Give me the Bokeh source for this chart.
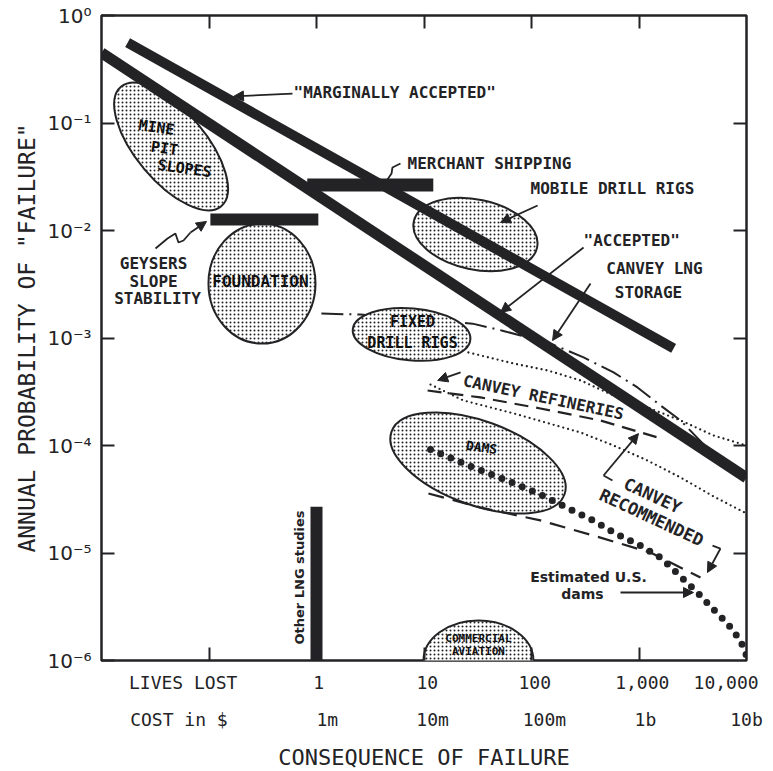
import numpy as np
from bokeh.plotting import figure
from bokeh.models import (Range1d, FixedTicker, LogAxis, CustomJSTickFormatter,
                          Arrow, NormalHead, ColumnDataSource)
from bokeh.core.properties import value
from bokeh.embed import file_html
from bokeh.resources import INLINE

# ---------------- axis data ----------------
y_ticks = [1e-6, 1e-5, 1e-4, 1e-3, 1e-2, 1e-1, 1.0]
y_tick_labels = ["10⁻⁶", "10⁻⁵", "10⁻⁴", "10⁻³", "10⁻²", "10⁻¹", "10⁰"]
x_inner_ticks = [0.1, 1, 10, 100, 1000]
y_inner_ticks = [1e-5, 1e-4, 1e-3, 1e-2, 1e-1]
lives_labels = ["LIVES LOST", "1", "10", "100", "1,000", "10,000"]
cost_labels = ["COST in $", "1m", "10m", "100m", "1b", "10b"]
# label anchor positions along the lives/cost rows (log10 of lives)
lives_label_exp = [-1.24, 0.02, 1.03, 2.03, 3.03, 3.81]
cost_label_exp = [-1.28, 0.10, 1.08, 2.12, 3.06, 4.0]

# ---------------- criterion lines ----------------
marginal_x = [0.0175, 2100]
marginal_y = [0.56, 8.0e-4]
accepted_x = [0.01, 10000]
accepted_y = [0.45, 5.0e-5]

# ---------------- bars ----------------
merchant_x = [0.82, 12.2]
merchant_y = [0.0265, 0.0265]
geysers_x = [0.103, 1.04]
geysers_y = [0.01265, 0.01265]
lng_other_x = [1.0, 1.0]
lng_other_y = [1e-6, 2.7e-5]

# ---------------- ellipses (centre, size in px, angle deg) ----------------
ell_names = ["mine", "foundation", "mobile", "fixed", "dams", "aviation"]
ell_x = [0.0444, 0.311, 30.1, 7.66, 31.8, 32.1]
ell_y = [0.0604, 0.00321, 0.00918, 0.00108, 6.87e-5, 1e-6]
ell_w = [156, 107, 126, 118, 184, 110]
ell_h = [70, 120, 70, 52, 84, 80]
ell_a = [-50, 0, -12, -5, -20, 0]

# ---------------- Canvey curves ----------------
lng_storage_x = [1.11, 2.56, 28.3, 53.7, 150, 305, 580, 968, 1585, 2432, 4335]
lng_storage_y = [1.69e-3, 1.65e-3, 1.36e-3, 1.17e-3, 8.9e-4, 6.6e-4, 4.78e-4,
                 3.47e-4, 2.36e-4, 1.71e-4, 9.4e-5]
upper_dot_x = [25.9, 68.0, 141, 286, 579, 1199, 2432, 4932, 10000]
upper_dot_y = [7.33e-4, 5.79e-4, 4.99e-4, 4.03e-4, 2.92e-4, 2.26e-4, 1.71e-4,
               1.24e-4, 1.0e-4]
lower_dot_x = [11.5, 23.3, 68.0, 286, 579, 1199, 2432, 4932, 10000]
lower_dot_y = [3.69e-4, 2.62e-4, 1.99e-4, 1.32e-4, 1.0e-4, 7.25e-5, 5.04e-5,
               3.36e-5, 2.33e-5]
refinery_x = [10.8, 33.5, 121, 438, 1486]
refinery_y = [3.25e-4, 2.80e-4, 2.21e-4, 1.71e-4, 1.19e-4]
lower_dash_x = [11.0, 33.5, 121, 438, 1279, 3733]
lower_dash_y = [3.58e-5, 2.65e-5, 2.01e-5, 1.39e-5, 1.01e-5, 5.92e-6]

# ---------------- estimated U.S. dams ----------------
usdams_x = [11.5, 28.9, 59.8, 121, 241, 378, 604, 989, 1585, 2328, 3499,
            4826, 6653, 8790, 10000]
usdams_y = [9.18e-5, 6.24e-5, 4.72e-5, 3.50e-5, 2.49e-5, 2.00e-5, 1.52e-5,
            1.20e-5, 9.08e-6, 6.31e-6, 4.29e-6, 3.05e-6, 2.21e-6, 1.53e-6, 1.11e-6]

# ---------------- leaders / arrows ----------------
arrows = [  # x_start, y_start, x_end, y_end
    (0.598, 0.188, 0.169, 0.1766),        # marginally accepted
    (114, 0.0171, 51.5, 0.01187),          # mobile drill rigs
    (305, 6.95e-3, 51.5, 1.73e-3),         # accepted
    (354, 3.21e-3, 157, 9.48e-4),          # canvey lng storage
    (0.0673, 9.58e-3, 0.0948, 0.01213),    # geysers
    (673, 4.29e-6, 3214, 4.29e-6),         # estimated US dams
    (21.9, 4.78e-4, 13.4, 4.03e-4),        # canvey refineries
    (468, 5.26e-5, 989, 1.29e-4),          # canvey recommended (upper)
    (5728, 1.10e-5, 4335, 6.59e-6),        # canvey recommended (lower)
]
merchant_sq_x = [6.04, 5.09, 4.99, 4.57]
merchant_sq_y = [0.042, 0.0386, 0.0339, 0.0298]
geysers_sq_x = [0.0318, 0.0411, 0.0487, 0.0520, 0.0579, 0.0673]
geysers_sq_y = [6.8e-3, 8.43e-3, 9.38e-3, 7.73e-3, 8.07e-3, 9.58e-3]
rec_up_x = [566, 468]
rec_up_y = [4.72e-5, 5.26e-5]
rec_lo_x = [4830, 5728]
rec_lo_y = [1.17e-5, 1.10e-5]

# ---------------- annotation texts ----------------
left_txt = ['"MARGINALLY ACCEPTED"', "MERCHANT SHIPPING", "MOBILE DRILL RIGS", '"ACCEPTED"']
left_x = [0.611, 7.03, 97.9, 305]
left_y = [0.192, 0.0420, 0.0246, 8.07e-3]

ctr_txt = ["GEYSERS", "SLOPE", "STABILITY", "CANVEY LNG", "STORAGE"]
ctr_x = [0.0305, 0.0305, 0.0332, 1393, 1225]
ctr_y = [4.93e-3, 3.35e-3, 2.33e-3, 4.43e-3, 2.65e-3]

ell_txt = ["MINE", "PIT", "SLOPES", "FOUNDATION", "FIXED", "DRILL RIGS", "DAMS"]
ell_tx = [0.0325, 0.0385, 0.0592, 0.301, 7.82, 7.82, 34.3]
ell_ty = [0.0908, 0.0579, 0.0377, 3.35e-3, 1.42e-3, 8.89e-4, 9.57e-5]
ell_tsize = ["15px", "15px", "15px", "16px", "15px", "15px", "13px"]
ell_tang = [-8, -8, -8, 0, 0, 0, -8]

avi_txt = ["COMMERCIAL", "AVIATION"]
avi_x = [32.1, 32.1]
avi_y = [1.60e-6, 1.21e-6]

rot_txt = ["CANVEY REFINERIES", "CANVEY", "RECOMMENDED"]
rot_x = [129, 1336, 1306]
rot_y = [2.80e-4, 3.43e-5, 2.14e-5]
rot_ang = [-12, -25, -25]
rot_size = ["16px", "17px", "17px"]

est_txt = ["Estimated U.S.", "dams"]
est_x = [339, 298]
est_y = [5.92e-6, 4.20e-6]

other_txt = ["Other LNG studies"]
other_x = [0.695]
other_y = [5.92e-6]

INK = "#232326"
MONO = value("DejaVu Sans Mono")

p = figure(x_axis_type="log", y_axis_type="log",
           x_range=Range1d(0.01, 10000), y_range=Range1d(1e-6, 1.0),
           frame_width=645, frame_height=645,
           min_border_left=101, min_border_top=15, min_border_right=24,
           min_border_bottom=95,
           output_backend="svg", toolbar_location=None)
p.background_fill_color = "white"
p.border_fill_color = "white"
p.outline_line_color = INK
p.outline_line_width = 2.5
p.grid.visible = False

blank = CustomJSTickFormatter(code="return '';")

# left axis with labels
ya = p.yaxis[0]
ya.ticker = FixedTicker(ticks=y_ticks, minor_ticks=[])
ya.formatter = CustomJSTickFormatter(args=dict(labels=y_tick_labels),
                                     code="return labels[Math.round(Math.log10(tick)) + 6];")
ya.major_tick_in = 13
ya.major_tick_out = 0
ya.major_tick_line_width = 2
ya.major_tick_line_color = INK
ya.axis_line_color = None
ya.major_label_text_font = "DejaVu Sans"
ya.major_label_text_font_size = "20px"
ya.major_label_text_color = INK
ya.major_label_standoff = 10
ya.axis_label = 'ANNUAL PROBABILITY OF "FAILURE"'
ya.axis_label_text_font = "DejaVu Sans Mono"
ya.axis_label_text_font_size = "23px"
ya.axis_label_text_font_style = "normal"
ya.axis_label_text_color = INK
ya.axis_label_standoff = 4

# bottom axis: ticks only
xa = p.xaxis[0]
xa.ticker = FixedTicker(ticks=x_inner_ticks, minor_ticks=[])
xa.formatter = blank
xa.major_tick_in = 13
xa.major_tick_out = 0
xa.major_tick_line_width = 2
xa.major_tick_line_color = INK
xa.axis_line_color = None
xa.major_label_text_font_size = "1px"
xa.major_label_standoff = 0

# top & right ticks
top = LogAxis(ticker=FixedTicker(ticks=x_inner_ticks, minor_ticks=[]), formatter=blank,
              major_tick_in=13, major_tick_out=0, major_tick_line_width=2,
              major_tick_line_color=INK, axis_line_color=None,
              major_label_text_font_size="1px", major_label_standoff=0)
p.add_layout(top, "above")
right = LogAxis(ticker=FixedTicker(ticks=y_inner_ticks, minor_ticks=[]), formatter=blank,
                major_tick_in=13, major_tick_out=0, major_tick_line_width=2,
                major_tick_line_color=INK, axis_line_color=None,
                major_label_text_font_size="1px", major_label_standoff=0)
p.add_layout(right, "right")

# label rows below
lives_pos = [10 ** e for e in lives_label_exp]
cost_pos = [10 ** e for e in cost_label_exp]
fmt_code = ("for (let i = 0; i < pos.length; i++) {"
            " if (Math.abs(Math.log10(pos[i] / tick)) < 1e-6) return labels[i]; }"
            " return '';")
lives_ax = LogAxis(ticker=FixedTicker(ticks=lives_pos, minor_ticks=[]),
                   formatter=CustomJSTickFormatter(args=dict(pos=lives_pos, labels=lives_labels), code=fmt_code),
                   major_tick_in=0, major_tick_out=0, major_tick_line_color=None,
                   axis_line_color=None, major_label_text_font="DejaVu Sans Mono",
                   major_label_text_font_size="18px", major_label_text_color=INK,
                   major_label_standoff=11)
p.add_layout(lives_ax, "below")
cost_ax = LogAxis(ticker=FixedTicker(ticks=cost_pos, minor_ticks=[]),
                  formatter=CustomJSTickFormatter(args=dict(pos=cost_pos, labels=cost_labels), code=fmt_code),
                  major_tick_in=0, major_tick_out=0, major_tick_line_color=None,
                  axis_line_color=None, major_label_text_font="DejaVu Sans Mono",
                  major_label_text_font_size="18px", major_label_text_color=INK,
                  major_label_standoff=13,
                  axis_label="CONSEQUENCE OF FAILURE", axis_label_text_font="DejaVu Sans Mono",
                  axis_label_text_font_size="22px", axis_label_text_font_style="normal",
                  axis_label_text_color=INK, axis_label_standoff=12)
p.add_layout(cost_ax, "below")

# ---- dash-dot LNG storage curve (under ellipses)
p.line(lng_storage_x, lng_storage_y, line_color=INK, line_width=2, line_dash="22 6 2 6")

# ---- ellipses
esrc = ColumnDataSource(dict(x=ell_x, y=ell_y, w=ell_w, h=ell_h, a=ell_a))
p.ellipse(x="x", y="y", width="w", height="h", angle="a", angle_units="deg",
          width_units="screen", height_units="screen", source=esrc,
          fill_color="white", hatch_pattern="dot", hatch_scale=4, hatch_weight=1.7,
          hatch_color=INK, line_color=INK, line_width=2)

# ---- other curves
p.line(upper_dot_x, upper_dot_y, line_color=INK, line_width=2.3, line_dash="0 5", line_cap="round")
p.line(lower_dot_x, lower_dot_y, line_color=INK, line_width=2.3, line_dash="0 5", line_cap="round")
p.line(refinery_x, refinery_y, line_color=INK, line_width=2.2, line_dash="14 8")
p.line(lower_dash_x, lower_dash_y, line_color=INK, line_width=2.2, line_dash="16 9")
p.line(usdams_x, usdams_y, line_color=INK, line_width=7, line_dash="0 11", line_cap="round")

# ---- criterion lines and bars
p.line(marginal_x, marginal_y, line_color=INK, line_width=10, line_cap="butt")
p.line(accepted_x, accepted_y, line_color=INK, line_width=11, line_cap="butt")
p.line(merchant_x, merchant_y, line_color=INK, line_width=13, line_cap="butt")
p.line(geysers_x, geysers_y, line_color=INK, line_width=12, line_cap="butt")
p.line(lng_other_x, lng_other_y, line_color=INK, line_width=12, line_cap="butt")

# ---- leaders
p.line(merchant_sq_x, merchant_sq_y, line_color=INK, line_width=1.8)
p.line(geysers_sq_x, geysers_sq_y, line_color=INK, line_width=1.8)
p.line(rec_up_x, rec_up_y, line_color=INK, line_width=1.8)
p.line(rec_lo_x, rec_lo_y, line_color=INK, line_width=1.8)
for xs, ys, xe, ye in arrows:
    p.add_layout(Arrow(end=NormalHead(size=10, fill_color=INK, line_color=INK),
                       x_start=xs, y_start=ys, x_end=xe, y_end=ye,
                       line_color=INK, line_width=1.8))

# ---- texts
p.text(left_x, left_y, text=left_txt, text_font=MONO, text_font_style="bold",
       text_font_size="16px", text_color=INK, text_align="left", text_baseline="middle")
p.text(ctr_x, ctr_y, text=ctr_txt, text_font=MONO, text_font_style="bold",
       text_font_size="16px", text_color=INK, text_align="center", text_baseline="middle")
esrc_t = ColumnDataSource(dict(x=ell_tx, y=ell_ty, t=ell_txt, s=ell_tsize, a=ell_tang))
p.text("x", "y", text="t", text_font_size="s", angle="a", angle_units="deg", source=esrc_t,
       text_font=MONO, text_font_style="bold", text_color="#111",
       text_align="center", text_baseline="middle")
p.text(avi_x, avi_y, text=avi_txt, text_font=MONO, text_font_style="bold",
       text_font_size="11px", text_color="#111", text_align="center", text_baseline="middle")
rsrc = ColumnDataSource(dict(x=rot_x, y=rot_y, t=rot_txt, a=rot_ang, s=rot_size))
p.text("x", "y", text="t", angle="a", angle_units="deg", text_font_size="s", source=rsrc,
       text_font=MONO, text_font_style="bold", text_color=INK,
       text_align="center", text_baseline="middle")
p.text(est_x, est_y, text=est_txt, text_font=value("DejaVu Sans"), text_font_style="bold",
       text_font_size="14px", text_color=INK, text_align="center", text_baseline="middle")
p.text(other_x, other_y, text=other_txt, angle=90, angle_units="deg",
       text_font=value("DejaVu Sans"), text_font_style="bold",
       text_font_size="13px", text_color=INK, text_align="center", text_baseline="middle")

open("out.html", "w").write(file_html(p, INLINE))
